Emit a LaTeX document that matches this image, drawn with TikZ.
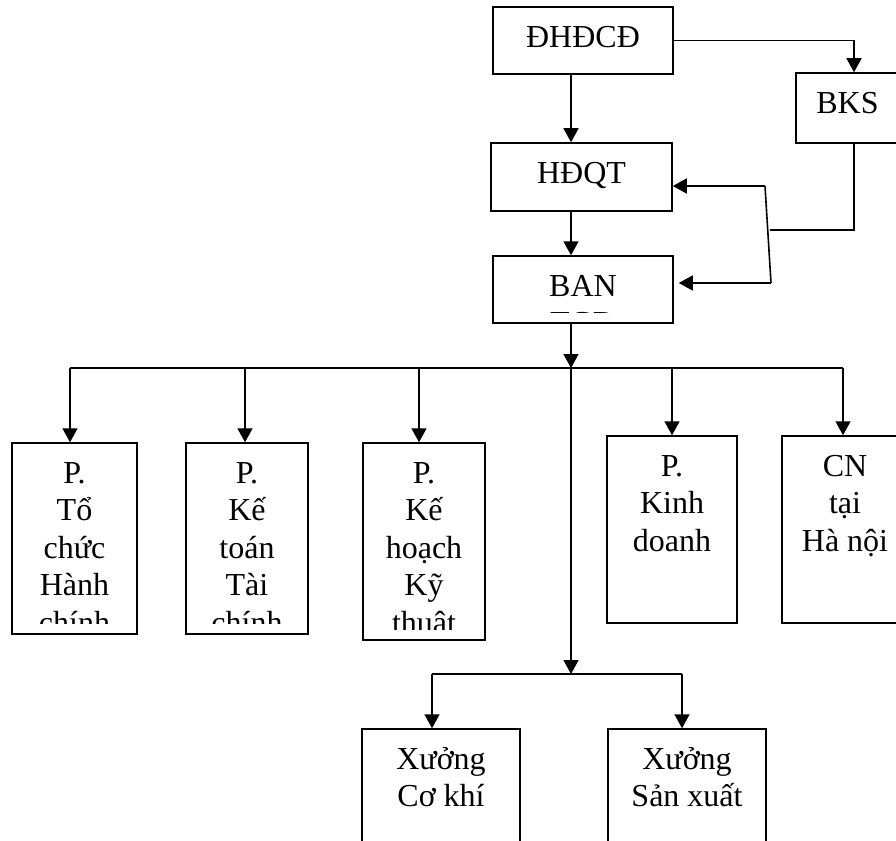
\documentclass[tikz,border=0pt]{standalone}
\usepackage{fontspec}
\setmainfont{Liberation Serif}
\usepackage{tikz}
\usetikzlibrary{positioning, arrows.meta, calc}

\begin{document}
\begin{tikzpicture}[
            x=1pt, y=-1pt,
            unittext/.style={anchor=north, inner sep=0pt, minimum width=0pt, minimum height=0pt, align=center, font=\fontsize{32pt}{37.5pt}\selectfont},
            unit/.style n args={3}{draw=black, line width=1.5pt, inner sep=0pt, minimum width=#1pt, minimum height=#2pt,
                path picture={
                    \clip (path picture bounding box.north west) rectangle ([yshift=10.5pt]path picture bounding box.south east);
                    \node[unittext] at ([yshift=-13.25pt]path picture bounding box.north) {\strut #3};
                }},
            link/.style={line width=1.6pt},
            arrow/.style={link, -{Triangle[length=14pt, width=15pt]}}
        ]
        \useasboundingbox (0,0) rectangle (896,840);

        % Boxen
        \node[unit={180}{67}{ĐHĐCĐ}] (dhdcd) at (583,40.5) {};
        \node[unit={103}{70}{BKS}] (bks) at (847.5,108) {};
        \node[unit={181}{68}{HĐQT}] (hdqt) at (581.5,177) {};
        \node[unit={180}{67}{BAN\\TGĐ}] (ban) at (583,289.5) {};

        \node[unit={125}{191}{P.\\Tổ\\chức\\Hành\\chính}] (pto) at (74.5,538.5) {};
        \node[unit={122}{191}{P.\\Kế\\toán\\Tài\\chính}] (pkt) at (247,538.5) {};
        \node[unit={122}{197}{P.\\Kế\\hoạch\\Kỹ\\thuật}] (pkh) at (424,541.5) {};
        \node[unit={130}{187}{P.\\Kinh\\doanh}] (pkd) at (672,529.5) {};
        \node[unit={126}{187}{CN\\tại\\Hà nội}] (cn) at (845,529.5) {};

        \node[unit={158}{131}{Xưởng\\Cơ khí}] (xck) at (441,794.5) {};
        \node[unit={158}{131}{Xưởng\\Sản xuất}] (xsx) at (687,794.5) {};

        % Hilfspunkte
        \coordinate (spine) at (571,0);
        \coordinate (bus) at (571,368);
        \coordinate (bus2) at (571,674);
        \coordinate (jt) at (765,186);
        \coordinate (jm) at (770,230);
        \coordinate (jb) at (771,283);

        % Verbindungen
        \draw[arrow] (dhdcd.south -| spine) -- (hdqt.north -| spine);
        \draw[arrow] (hdqt.south -| spine) -- (ban.north -| spine);
        \draw[arrow] (ban.south -| spine) -- (bus);
        \draw[arrow] (dhdcd.east) -| ([xshift=6.5pt]bks.north);
        \draw[link] ([xshift=6.5pt]bks.south) |- (jm);
        \draw[link] (jt) -- (jb);
        \draw[arrow] (jt) -- (jt -| hdqt.east);
        \draw[arrow] (jb) -- ([xshift=5pt]jb -| ban.east);

        \draw[link] ([xshift=-4.5pt]pto.north |- bus) -- ([xshift=-2pt]cn.north |- bus);
        \foreach \n/\d in {pto/-4.5, pkt/-2, pkh/-5, pkd/0, cn/-2}
            \draw[arrow] ([xshift=\d pt]\n.north |- bus) -- ([xshift=\d pt]\n.north);

        \draw[arrow] (bus) -- (bus2);
        \draw[link] ([xshift=-9pt]xck.north |- bus2) -- ([xshift=-5pt]xsx.north |- bus2);
        \draw[arrow] ([xshift=-9pt]xck.north |- bus2) -- ([xshift=-9pt]xck.north);
        \draw[arrow] ([xshift=-5pt]xsx.north |- bus2) -- ([xshift=-5pt]xsx.north);

    \end{tikzpicture}
\end{document}
